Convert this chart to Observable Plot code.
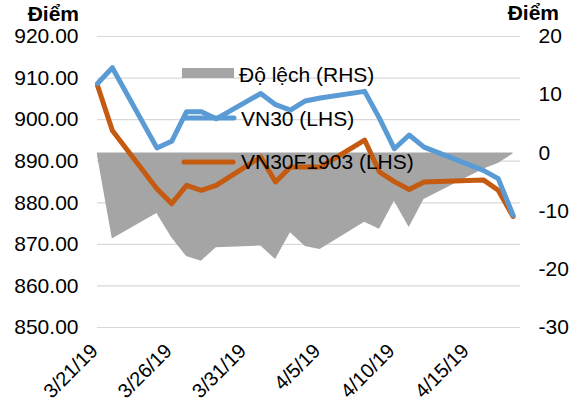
<!DOCTYPE html>
<html>
<head>
<meta charset="utf-8">
<script src="https://cdn.jsdelivr.net/npm/d3@7"></script>
<script src="https://cdn.jsdelivr.net/npm/@observablehq/plot@0.6"></script>
<style>
  html, body { margin: 0; padding: 0; background: #fff; }
  #chart { width: 579px; height: 405px; overflow: hidden; }
</style>
</head>
<body>
<div id="chart"></div>
<script>
// Trading days (VN30 and VN30F1903), 2019
const dates = ["2019-03-21","2019-03-22","2019-03-25","2019-03-26","2019-03-27","2019-03-28","2019-03-29",
  "2019-04-01","2019-04-02","2019-04-03","2019-04-04","2019-04-05","2019-04-08","2019-04-09","2019-04-10",
  "2019-04-11","2019-04-12","2019-04-16","2019-04-17","2019-04-18"];
const vn30 = [908.7, 912.5, 893.2, 894.8, 901.9, 901.9, 900.2, 906.3, 903.6, 902.3, 904.5, 905.2, 906.8, 900.3, 893.0, 896.3, 893.4, 887.8, 885.8, 877.0];
const vn30f = [908.2, 897.4, 883.4, 879.8, 884.2, 883.0, 884.2, 891.0, 885.0, 888.6, 888.6, 888.6, 895.1, 887.4, 885.1, 883.2, 885.0, 885.5, 883.0, 876.7];
const deviation = [-0.5, -14.8, -10.4, -14.6, -17.8, -18.6, -16.3, -16.0, -18.3, -13.7, -16.1, -16.6, -11.9, -13.1, -8.3, -12.8, -8.0, -2.8, -1.8, -0.2];

const leftTicks = [850, 860, 870, 880, 890, 900, 910, 920];
const rightTicks = [-30, -20, -10, 0, 10, 20];
const xTickDates = ["2019-03-21","2019-03-26","2019-03-31","2019-04-05","2019-04-10","2019-04-15"];

const legendLabels = ["Độ lệch (RHS)", "VN30 (LHS)", "VN30F1903 (LHS)"];
const axisTitle = "Điểm";

// right axis (-30..20) mapped onto left axis (850..920)
const toLeft = v => 920 - (20 - v) * 70 / 50;
const fromLeft = l => 20 - (920 - l) * 50 / 70;

const rows = dates.map((d, i) => ({date: new Date(d), vn30: vn30[i], vn30f: vn30f[i], dev: deviation[i]}));

const font = "'Liberation Sans', Arial, sans-serif";
const blue = "#5B9BD5", orange = "#C55A11", gray = "#A5A5A5";

const chart = Plot.plot({
  width: 579,
  height: 405,
  marginLeft: 97,
  marginRight: 59,
  marginTop: 36,
  marginBottom: 78,
  style: {fontFamily: font, fontSize: "21px", color: "#000", background: "#fff", overflow: "visible"},
  x: {type: "utc", domain: [new Date("2019-03-21"), new Date("2019-04-18T12:00Z")]},
  y: {domain: [850, 920]},
  marks: [
    Plot.ruleY(leftTicks, {stroke: "#d9d9d9", strokeWidth: 1.2}),
    Plot.areaY(rows, {x: "date", y1: () => toLeft(0), y2: d => toLeft(d.dev), fill: gray, curve: "linear"}),
    Plot.line(rows, {x: "date", y: "vn30f", stroke: orange, strokeWidth: 5, strokeLinejoin: "round", strokeLinecap: "round"}),
    Plot.line(rows, {x: "date", y: "vn30", stroke: blue, strokeWidth: 5, strokeLinejoin: "round", strokeLinecap: "round"}),
    Plot.axisY({ticks: leftTicks, tickSize: 0, tickPadding: 19, tickFormat: d => d.toFixed(2), label: null}),
    Plot.axisY({anchor: "right", ticks: rightTicks.map(toLeft), tickSize: 0, tickPadding: 18,
      tickFormat: d => String(Math.round(fromLeft(d))), label: null}),
    Plot.axisX({ticks: xTickDates.map(d => new Date(d)), tickFormat: d3.utcFormat("%-m/%-d/%y"),
      tickRotate: -45, tickSize: 0, tickPadding: 20, dx: -3, fontSize: 20, label: null})
  ]
});

const svg = d3.select(chart);
// axis titles
svg.append("text").attr("x", 79).attr("y", 21).attr("text-anchor", "end")
  .attr("font-family", font).attr("font-size", 21).attr("font-weight", "bold").text(axisTitle);
svg.append("text").attr("x", 559).attr("y", 20).attr("text-anchor", "end")
  .attr("font-family", font).attr("font-size", 21).attr("font-weight", "bold").text(axisTitle);

// legend
const lg = svg.append("g").attr("font-family", font).attr("font-size", 21).attr("fill", "#000")
  .attr("text-anchor", "start");
lg.append("rect").attr("x", 182).attr("y", 68).attr("width", 52).attr("height", 10).attr("fill", gray);
lg.append("text").attr("x", 239).attr("y", 81.5).attr("text-anchor", "start").text(legendLabels[0]);
lg.append("line").attr("x1", 184).attr("x2", 234).attr("y1", 118).attr("y2", 118)
  .attr("stroke", blue).attr("stroke-width", 5).attr("stroke-linecap", "round");
lg.append("text").attr("x", 241).attr("y", 125.5).attr("text-anchor", "start").text(legendLabels[1]);
lg.append("line").attr("x1", 184).attr("x2", 233).attr("y1", 162).attr("y2", 162)
  .attr("stroke", orange).attr("stroke-width", 5).attr("stroke-linecap", "round");
lg.append("text").attr("x", 241).attr("y", 169).attr("text-anchor", "start").text(legendLabels[2]);

document.getElementById("chart").appendChild(chart);
</script>
</body>
</html>
